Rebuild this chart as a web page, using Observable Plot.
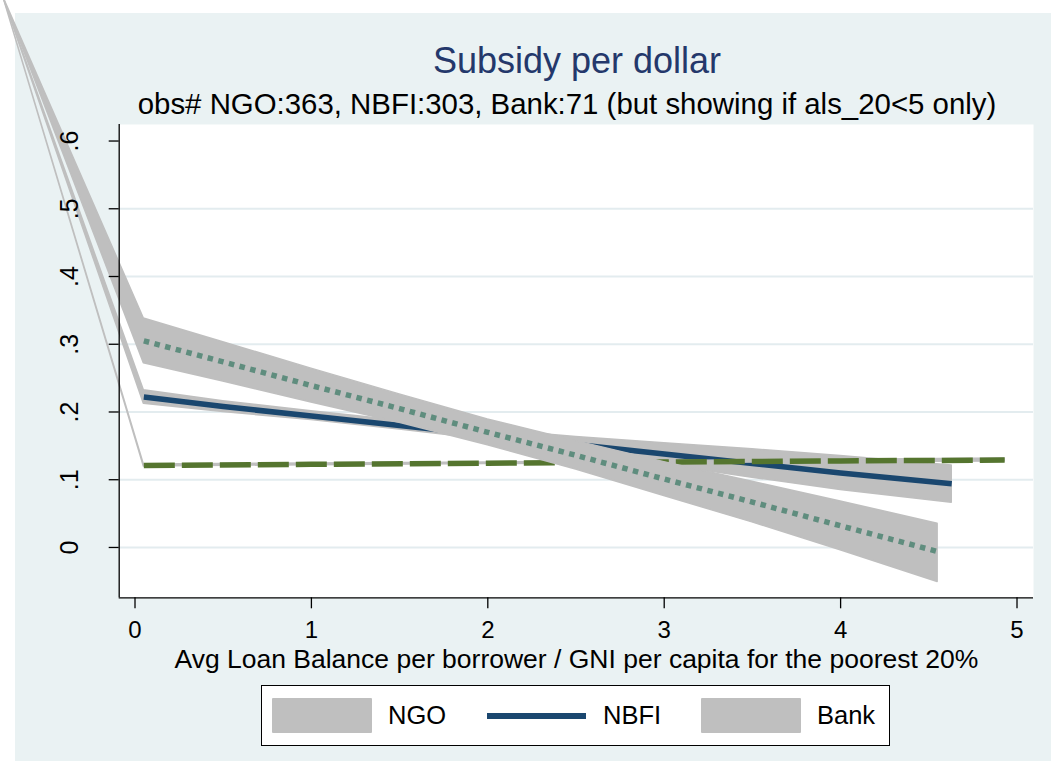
<!DOCTYPE html>
<html>
<head>
<meta charset="utf-8">
<script src="https://cdn.jsdelivr.net/npm/d3@7"></script>
<script src="https://cdn.jsdelivr.net/npm/@observablehq/plot@0.6"></script>
<style>
  html, body { margin: 0; padding: 0; background: #fff; }
  body { width: 1051px; height: 761px; position: relative; overflow: hidden;
         font-family: "Liberation Sans", Arial, Helvetica, sans-serif; color: #000; }
  #region { position: absolute; left: 15px; top: 13px; width: 1036px; height: 748px; background: #EAF2F3; }
  #title { position: absolute; left: 0; width: 1154px; top: 43px; text-align: center; white-space: nowrap;
           font-size: 36px; line-height: 36px; color: #24386B; }
  #subtitle { position: absolute; left: 0; width: 1134px; top: 89px; text-align: center; white-space: nowrap;
              font-size: 29.4px; line-height: 29.4px; }
  #chart { position: absolute; left: 0; top: 114px; }
  #legend { position: absolute; left: 261px; top: 685px; width: 629px; height: 61px;
            box-sizing: border-box; border: 1.5px solid #000; background: #fff; }
  .swatch { position: absolute; background: #BFBFBF; border-radius: 1px; }
  .keyline { position: absolute; height: 6px; background: #1A476F; }
  .keytext { position: absolute; font-size: 25.5px; line-height: 25.5px; white-space: nowrap; }
</style>
</head>
<body>
<div id="region"></div>
<div id="title">Subsidy per dollar</div>
<div id="subtitle">obs# NGO:363, NBFI:303, Bank:71 (but showing if als_20&lt;5 only)</div>
<div id="chart"></div>
<div id="legend"></div>
<script>
// Axis ticks and labels
const xTicks = [0, 1, 2, 3, 4, 5];
const xTickLabels = ["0", "1", "2", "3", "4", "5"];
const yTicks = [0, 0.1, 0.2, 0.3, 0.4, 0.5, 0.6];
const yTickLabels = ["0", ".1", ".2", ".3", ".4", ".5", ".6"];
const gridValues = [0, 0.1, 0.2, 0.3, 0.4, 0.5];
const xTitle = "Avg Loan Balance per borrower / GNI per capita for the poorest 20%";

// Stray observation that every confidence band polygon starts from
const strayX = -0.746;
const strayY = 0.812;

// NGO: linear fit with 95% CI
const ngoX   = [0.05, 0.5, 1, 1.5, 2, 2.5, 3, 3.5, 4, 4.55];
const ngoFit = [0.305, 0.274, 0.239, 0.205, 0.170, 0.136, 0.101, 0.067, 0.032, -0.006];
const ngoLo  = [0.272, 0.245, 0.214, 0.184, 0.151, 0.115, 0.076, 0.037, -0.004, -0.051];
const ngoHi  = [0.338, 0.303, 0.264, 0.226, 0.189, 0.157, 0.126, 0.097, 0.068, 0.035];

// NBFI
const nbfiX   = [0.05, 0.5, 1, 1.5, 2, 2.5, 3, 3.5, 4, 4.63];
const nbfiFit = [0.222, 0.208, 0.194, 0.180, 0.166, 0.152, 0.138, 0.124, 0.110, 0.094];
const nbfiLo  = [0.212, 0.200, 0.188, 0.174, 0.159, 0.141, 0.122, 0.103, 0.085, 0.066];
const nbfiHi  = [0.232, 0.216, 0.201, 0.187, 0.174, 0.163, 0.154, 0.145, 0.135, 0.121];

// Bank
const bankX   = [0.05, 1, 2, 3, 4, 4.93];
const bankFit = [0.121, 0.1227, 0.1244, 0.1261, 0.1278, 0.129];
const bankLo  = [0.1195, 0.1215, 0.1232, 0.1247, 0.126, 0.1268];
const bankHi  = [0.1225, 0.1239, 0.1256, 0.1275, 0.1296, 0.1312];

const legendItems = ["NGO", "NBFI", "Bank"];

const bandFill = "#BFBFBF";
const colors = {NGO: "#5F8D7E", NBFI: "#1A476F", Bank: "#55752F"};

const fitRows = (xs, fit) => xs.map((x, i) => ({x, fit: fit[i]}));
const bandRows = (xs, lo, hi) =>
  [{x: strayX, lo: strayY, hi: strayY}].concat(xs.map((x, i) => ({x, lo: lo[i], hi: hi[i]})));

const xDomain = [-0.0896, 5.0935];
const yDomain = [-0.0743, 0.6244];

const band = (rows) => Plot.areaY(rows, {x: "x", y1: "lo", y2: "hi", fill: bandFill,
  stroke: bandFill, strokeWidth: 1.5, curve: "linear"});

const chart = Plot.plot({
  width: 1051,
  height: 566,
  marginLeft: 118.7,
  marginRight: 18,
  marginTop: 10,
  marginBottom: 82.7,
  x: {domain: xDomain},
  y: {domain: yDomain},
  style: {fontFamily: "'Liberation Sans', Arial, sans-serif", fontSize: "25px",
          background: "transparent", overflow: "visible", color: "#000"},
  marks: [
    Plot.frame({fill: "#fff", stroke: null}),
    Plot.ruleY(gridValues, {stroke: "#E3ECEF", strokeWidth: 2}),
    band(bandRows(nbfiX, nbfiLo, nbfiHi)),
    Plot.line(fitRows(nbfiX, nbfiFit), {x: "x", y: "fit", stroke: colors.NBFI, strokeWidth: 5.5,
      strokeLinecap: "butt"}),
    band(bandRows(bankX, bankLo, bankHi)),
    Plot.line(fitRows(bankX, bankFit), {x: "x", y: "fit", stroke: colors.Bank, strokeWidth: 5.5,
      strokeDasharray: "31,7", strokeLinecap: "butt"}),
    band(bandRows(ngoX, ngoLo, ngoHi)),
    Plot.line(fitRows(ngoX, ngoFit), {x: "x", y: "fit", stroke: colors.NGO, strokeWidth: 5.5,
      strokeDasharray: "5.5,5.5", strokeLinecap: "butt"}),
    Plot.ruleX([xDomain[0]], {stroke: "#000", strokeWidth: 1.3}),
    Plot.ruleY([yDomain[0]], {stroke: "#000", strokeWidth: 1.3}),
    Plot.axisX({ticks: xTicks, tickFormat: (d) => xTickLabels[xTicks.indexOf(d)], tickSize: 11,
      tickPadding: 12, fontSize: 24, label: null, strokeWidth: 1.3}),
    Plot.axisY({ticks: yTicks, tickFormat: () => "", tickSize: 10, label: null, strokeWidth: 1.3}),
    Plot.text(yTicks, {y: (d) => d, text: (d, i) => yTickLabels[i], frameAnchor: "left", dx: -41.7,
      rotate: -90, textAnchor: "middle", lineAnchor: "bottom", fontSize: 25}),
    Plot.text([xTitle], {frameAnchor: "bottom", dy: 70, lineAnchor: "bottom", fontSize: 26.5})
  ]
});

document.getElementById("chart").appendChild(chart);

// Legend below the plot
const body = document.body;
function add(cls, css, text) {
  const d = document.createElement("div");
  d.className = cls;
  Object.assign(d.style, css);
  if (text) d.textContent = text;
  body.appendChild(d);
}
add("swatch", {left: "272px", top: "698px", width: "100px", height: "35px"});
add("keytext", {left: "388px", top: "703px"}, legendItems[0]);
add("keyline", {left: "487px", top: "712.5px", width: "99px"});
add("keytext", {left: "603px", top: "703px"}, legendItems[1]);
add("swatch", {left: "701px", top: "698px", width: "100px", height: "35px"});
add("keytext", {left: "817px", top: "703px"}, legendItems[2]);
</script>
</body>
</html>
